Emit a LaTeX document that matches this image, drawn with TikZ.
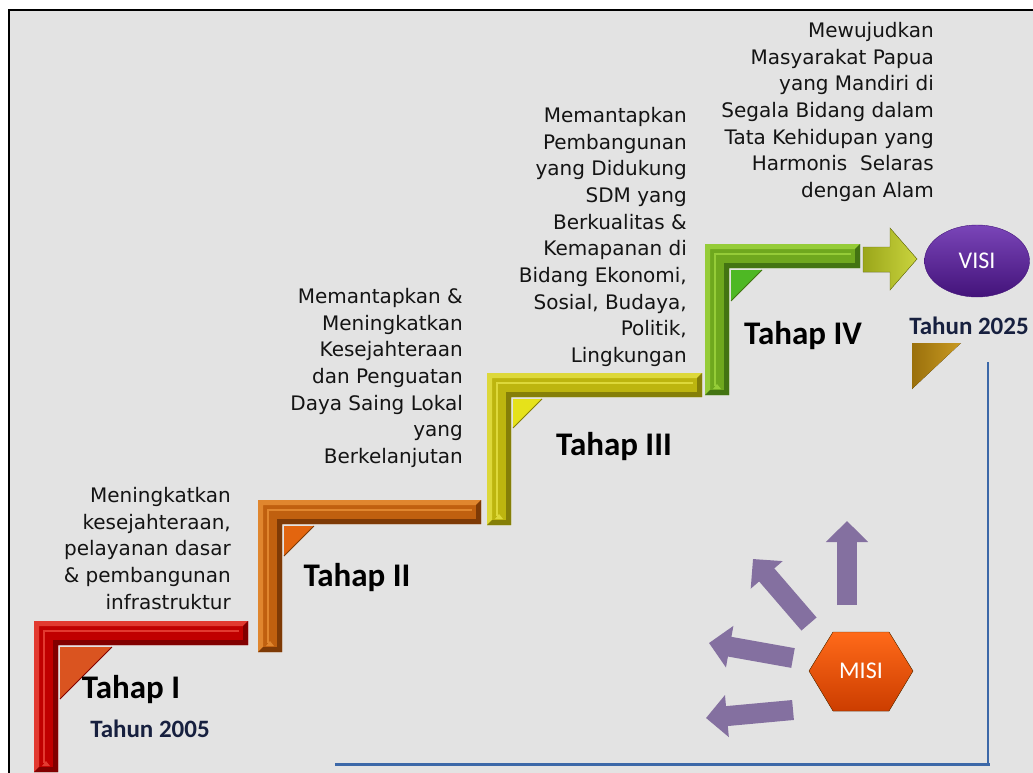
\documentclass[tikz,border=0pt]{standalone}
\usepackage{fontspec}
\setmainfont{DejaVu Sans}
\newfontfamily\headfont{Carlito}
\usetikzlibrary{arrows.meta, shapes.geometric, calc}

% colours of the four stairs
\definecolor{Ibase}{HTML}{C00000}  \definecolor{Ilite}{HTML}{E23A30}
\definecolor{Idark}{HTML}{820000}  \definecolor{Itri}{HTML}{DA5420}
\definecolor{IIbase}{HTML}{C0600F} \definecolor{IIlite}{HTML}{E0862E}
\definecolor{IIdark}{HTML}{7E3A06} \definecolor{IItri}{HTML}{E3650F}
\definecolor{IIIbase}{HTML}{BDB50F} \definecolor{IIIlite}{HTML}{DDD83A}
\definecolor{IIIdark}{HTML}{857F08} \definecolor{IIItri}{HTML}{E6E21A}
\definecolor{IVbase}{HTML}{6FA81E} \definecolor{IVlite}{HTML}{95CC38}
\definecolor{IVdark}{HTML}{437412} \definecolor{IVtri}{HTML}{4EB824}
% other colours
\definecolor{bggray}{HTML}{E3E3E3}
\definecolor{navytext}{HTML}{17203F}
\definecolor{misipurple}{HTML}{8470A0}
\definecolor{ruleblue}{HTML}{3C68A8}
\definecolor{goldtri}{HTML}{C99A22}
\definecolor{golddark}{HTML}{9A700C}
\definecolor{visitop}{HTML}{7A45B8}
\definecolor{visibottom}{HTML}{43137A}
\definecolor{arrowolive}{HTML}{9AA61A}
\definecolor{arrowlite}{HTML}{CAD43E}

\begin{document}
\begin{tikzpicture}[x=1pt, y=-1pt]
    \tikzset{
        desc/.style={align=right, anchor=north east, inner sep=0pt,
            font=\fontsize{20}{26.7}\selectfont, text=black!92},
        tahap/.style={inner sep=0pt, font=\headfont\bfseries\fontsize{33}{34}\selectfont},
        tahun/.style={inner sep=0pt, text=navytext,
            font=\headfont\bfseries\fontsize{25}{26}\selectfont},
        misiarrow/.style={draw=misipurple, line width=20pt,
            -{Triangle[length=21pt, width=41pt]}},
        bluerule/.style={draw=ruleblue, line width=2pt}
    }
    \useasboundingbox (0,0) rectangle (1033,773);

    % 1. background panel
    \fill[bggray] (9,10) rectangle (1033,773);
    \draw[line width=2.5pt] (9,773) -- (9,10) -- (1033,10);

    % 2. the four stairs: corner x/y, right end, bottom, fold size, colour
    \foreach \x/\y/\r/\b/\s/\stp in {34/621/248/772/52/I, 258/500/481/652/30/II,
                                     487/373/702/525/29/III, 705/244/860/395/31/IV} {
        \fill[\stp base] (\x,\y) -- (\r,\y) -- (\r,\y+24) -- (\x+24,\y+24)
            -- (\x+24,\b) -- (\x,\b) -- cycle;
        % lit outer bevel
        \fill[\stp lite] (\x,\y) -- (\r,\y) -- (\r-5,\y+5) -- (\x+5,\y+5)
            -- (\x+5,\b-5) -- (\x,\b) -- cycle;
        % dark inner bevel
        \fill[\stp dark] (\r,\y) -- (\r,\y+24) -- (\x+24,\y+24) -- (\x+24,\b)
            -- (\x,\b) -- (\x+5,\b-5) -- (\x+19,\b-5) -- (\x+19,\y+19)
            -- (\r-5,\y+19) -- (\r-5,\y+5) -- cycle;
        \draw[\stp lite, line width=1.2pt] (\r-9,\y+10) -- (\x+10,\y+10) -- (\x+10,\b-9);
        % small mark at the foot
        \fill[\stp lite] (\x+12,\b-11) -- (\x+16,\b-6) -- (\x+8,\b-6) -- cycle;
        % folded corner
        \fill[\stp tri] (\x+26,\y+26) -- (\x+26+\s,\y+26) -- (\x+26,\y+26+\s) -- cycle;
        \draw[\stp dark, line width=0.8pt] (\x+26+\s,\y+26) -- (\x+26,\y+26+\s);
    }

    % 3. arrow into VISI
    \node[ellipse, minimum width=105pt, minimum height=72pt, draw=visibottom,
        top color=visitop, bottom color=visibottom,
        text=white, font=\headfont\fontsize{24}{26}\selectfont] (visi) at (977,261) {VISI};
    \fill[left color=arrowolive, right color=arrowlite, draw=arrowolive!70!black]
        (863,247) -- (890,247) -- (890,228) -- (917,259) -- (890,290) -- (890,272)
        -- (863,272) -- cycle;

    % 4. step texts
    \node[desc] (txtI) at (231,487)
        {Meningkatkan\\kesejahteraan,\\pelayanan dasar\\\& pembangunan\\infrastruktur};
    \node[desc] (txtII) at (463,288)
        {Memantapkan \&\\Meningkatkan\\Kesejahteraan\\dan Penguatan\\Daya Saing Lokal\\yang\\Berkelanjutan};
    \node[desc] (txtIII) at (687,107)
        {Memantapkan\\Pembangunan\\yang Didukung\\SDM yang\\Berkualitas \&\\Kemapanan di\\Bidang Ekonomi,\\Sosial, Budaya,\\Politik,\\Lingkungan};
    \node[desc] (txtIV) at (934,22)
        {Mewujudkan\\Masyarakat Papua\\yang Mandiri di\\Segala Bidang dalam\\Tata Kehidupan yang\\Harmonis\ \ Selaras\\dengan Alam};

    % 5. stage labels
    \node[tahap] (tahapI) at (131,690) {Tahap I};
    \node[tahap] (tahapII) at (357,578) {Tahap II};
    \node[tahap] (tahapIII) at (614,447) {Tahap III};
    \node[tahap] (tahapIV) at (803,336) {Tahap IV};
    \node[tahun] (th2005) at (150,729) {Tahun 2005};
    \node[tahun] (th2025) at (969,326) {Tahun 2025};

    % 6. gold triangle under Tahun 2025
    \fill[left color=golddark, right color=goldtri] (912,343) -- (961,343) -- (912,389) -- cycle;

    % 7. blue frame lines
    \coordinate (ruleTop) at (988,362);
    \coordinate (ruleCorner) at (988,764);
    \coordinate (ruleLeft) at (335,764);
    \draw[bluerule] (ruleTop) -- (ruleCorner);
    \draw[bluerule, line width=3pt] (ruleLeft) -- (990,764);

    % 8. MISI hexagon and its arrows
    \fill[top color=orange!70!red!90!white, bottom color=orange!60!red!80!black,
        draw=orange!40!black] (809,671) -- (833,632) -- (889,632) -- (913,671)
        -- (889,711) -- (833,711) -- cycle;
    \node[text=white, font=\headfont\fontsize{24}{26}\selectfont] (misi) at (861,671) {MISI};

    \coordinate (a1) at (847,605); \coordinate (t1) at (847,521);
    \coordinate (a2) at (809,624); \coordinate (t2) at (753,559);
    \coordinate (a3) at (793,658); \coordinate (t3) at (709,643);
    \coordinate (a4) at (793,710); \coordinate (t4) at (706,718);
    \draw[misiarrow] (a1) -- (t1);
    \draw[misiarrow] (a2) -- (t2);
    \draw[misiarrow] (a3) -- (t3);
    \draw[misiarrow] (a4) -- (t4);

\end{tikzpicture}
\end{document}
